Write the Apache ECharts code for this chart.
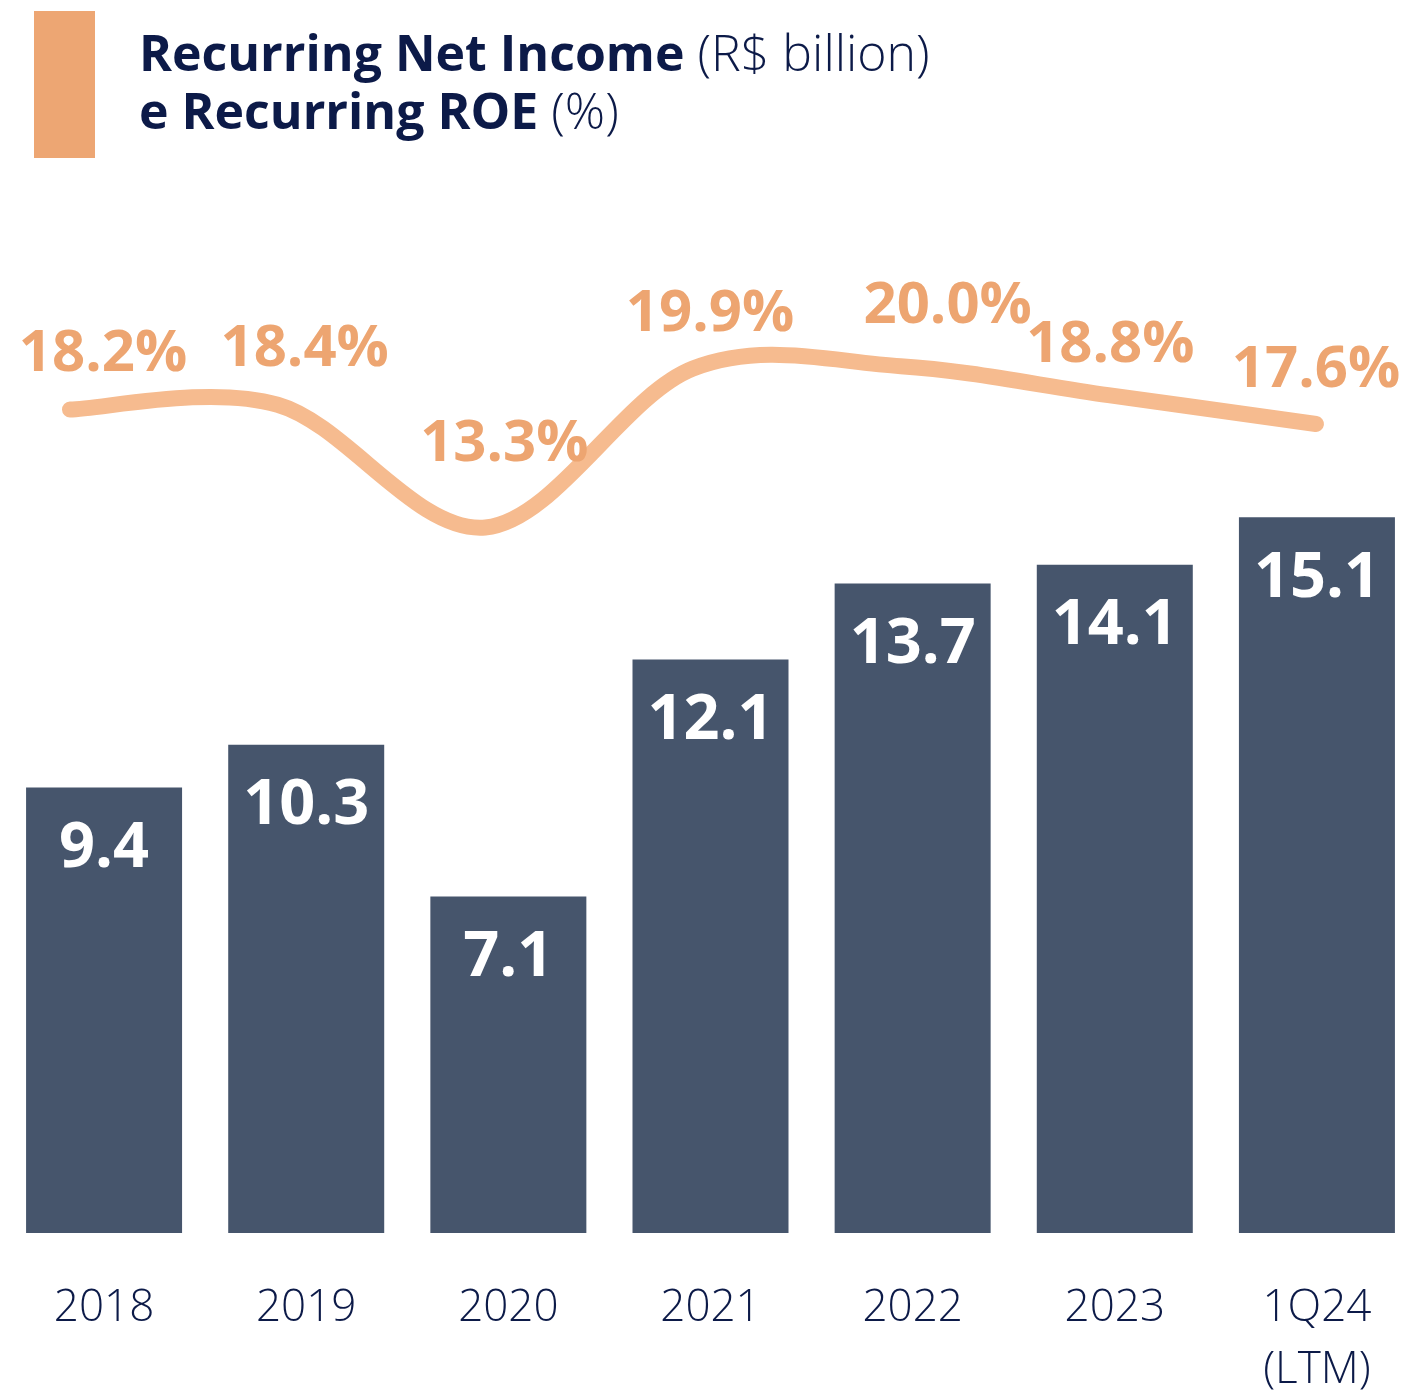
<!DOCTYPE html>
<html>
<head>
<meta charset="utf-8">
<title>Recurring Net Income e Recurring ROE</title>
<script src="https://cdn.jsdelivr.net/npm/echarts@6/dist/echarts.min.js"></script>
<style>
  html, body { margin: 0; padding: 0; background: #ffffff; }
  #chart { width: 1406px; height: 1391px; }
</style>
</head>
<body>
<div id="chart"></div>
<script>
// Periods on the horizontal axis
const categories = ['2018', '2019', '2020', '2021', '2022', '2023', '1Q24\n(LTM)'];
// Recurring net income, R$ billion
const netIncome = [9.4, 10.3, 7.1, 12.1, 13.7, 14.1, 15.1];
// Recurring ROE, %
const roe = [18.2, 18.4, 13.3, 19.9, 20.0, 18.8, 17.6];
// Nudges that keep each ROE label clear of the curve
const roeLabelOffsets = [[33, -55], [27, -55], [19, -83], [17, -54], [47, -60], [2, -50], [0, -53]];

const NAVY = '#0c1a48';
const BAR = '#46556c';
const LINE = '#f6bb8f';
const ORANGE = '#eda571';
const FONT = '"Open Sans", "Noto Sans", sans-serif';

// Cardinal (Catmull-Rom) spline through the projected points, as cubic Bezier segments
function splinePath(pts) {
  let d = 'M' + pts[0][0] + ' ' + pts[0][1];
  for (let i = 0; i < pts.length - 1; i++) {
    const p0 = pts[Math.max(i - 1, 0)];
    const p1 = pts[i];
    const p2 = pts[i + 1];
    const p3 = pts[Math.min(i + 2, pts.length - 1)];
    const c1x = p1[0] + (p2[0] - p0[0]) / 6;
    const c1y = p1[1] + (p2[1] - p0[1]) / 6;
    const c2x = p2[0] - (p3[0] - p1[0]) / 6;
    const c2y = p2[1] - (p3[1] - p1[1]) / 6;
    d += ' C' + c1x + ' ' + c1y + ' ' + c2x + ' ' + c2y + ' ' + p2[0] + ' ' + p2[1];
  }
  return d;
}

function renderRoe(params, api) {
  const i = params.dataIndex;
  const pt = api.coord([i, roe[i]]);
  const children = [];
  if (i === 0) {
    const pts = roe.map((v, k) => api.coord([k, v]));
    children.push({
      type: 'path',
      shape: { pathData: splinePath(pts) },
      style: { fill: 'none', stroke: LINE, lineWidth: 16, lineCap: 'round', lineJoin: 'round' },
      z2: 1
    });
  }
  children.push({
    type: 'text',
    x: pt[0] + roeLabelOffsets[i][0],
    y: pt[1] + roeLabelOffsets[i][1],
    style: {
      text: roe[i].toFixed(1) + '%',
      fill: ORANGE,
      font: 'bold 58px ' + FONT,
      align: 'center',
      verticalAlign: 'middle'
    },
    z2: 10
  });
  return { type: 'group', children: children };
}

const chart = echarts.init(document.getElementById('chart'), null, { renderer: 'canvas' });

chart.setOption({
  backgroundColor: '#ffffff',
  animation: false,
  graphic: [
    {
      type: 'rect',
      left: 34, top: 11,
      shape: { width: 61, height: 147 },
      style: { fill: '#eda673' }
    }
  ],
  title: {
    left: 134, top: 23,
    text: '{b|Recurring Net Income }{n|(R$ billion)}\n{b|e Recurring ROE }{n|(%)}',
    textStyle: {
      rich: {
        b: { fontFamily: FONT, fontWeight: 'bold', fontSize: 50, color: NAVY, lineHeight: 58 },
        n: { fontFamily: FONT, fontWeight: 300, fontSize: 50, color: NAVY, lineHeight: 58 }
      }
    }
  },
  grid: [
    // bars
    { left: 3, width: 1415, top: 285, height: 948, outerBoundsMode: 'none' },
    // ROE curve
    { left: 70, width: 1246, top: 318, height: 289, outerBoundsMode: 'none' }
  ],
  xAxis: [
    {
      type: 'category', gridIndex: 0, data: categories,
      axisLine: { show: false }, axisTick: { show: false },
      axisLabel: {
        margin: 44, fontFamily: FONT, fontWeight: 300, fontSize: 44,
        lineHeight: 62, color: NAVY, interval: 0
      }
    },
    {
      type: 'category', gridIndex: 1, data: categories, boundaryGap: false,
      show: false
    }
  ],
  yAxis: [
    { type: 'value', gridIndex: 0, min: 0, max: 20, show: false, splitLine: { show: false } },
    { type: 'value', gridIndex: 1, min: 10, max: 22, show: false, splitLine: { show: false } }
  ],
  series: [
    {
      name: 'Recurring Net Income',
      type: 'bar', xAxisIndex: 0, yAxisIndex: 0,
      data: netIncome,
      barWidth: 156,
      itemStyle: { color: BAR },
      label: {
        show: true, position: 'insideTop', distance: 30,
        fontFamily: FONT, fontWeight: 'bold', fontSize: 63, color: '#ffffff',
        formatter: p => p.value.toFixed(1)
      }
    },
    {
      name: 'Recurring ROE',
      type: 'custom', xAxisIndex: 1, yAxisIndex: 1,
      data: roe.map((v, i) => [i, v]),
      renderItem: renderRoe,
      clip: false,
      z: 3
    }
  ]
});
</script>
</body>
</html>
